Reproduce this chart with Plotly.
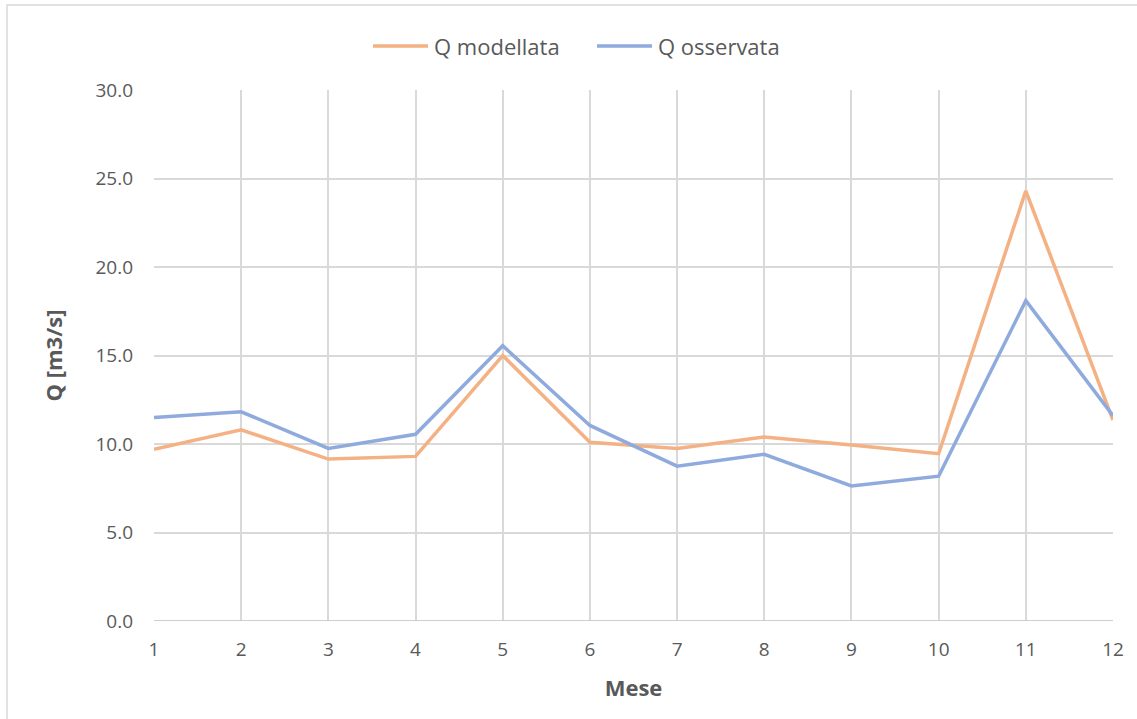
import plotly.graph_objects as go

# Monthly discharge, modelled vs observed
mesi = [1, 2, 3, 4, 5, 6, 7, 8, 9, 10, 11, 12]
q_modellata = [9.7, 10.8, 9.15, 9.3, 15.0, 10.1, 9.75, 10.4, 9.95, 9.45, 24.3, 11.35]
q_osservata = [11.5, 11.82, 9.75, 10.55, 15.55, 11.05, 8.75, 9.42, 7.63, 8.18, 18.1, 11.6]
y_ticks = [0, 5, 10, 15, 20, 25, 30]
series_names = ["Q modellata", "Q osservata"]
series_colors = ["#F4B183", "#8FAADC"]

font_family = "Open Sans, Liberation Sans, sans-serif"
text_col = "#595959"
grid_col = "#d9d9d9"

W, H = 1137, 719
ML, MR, MT, MB = 154, 24, 90, 98
PW, PH = W - ML - MR, H - MT - MB


def px_x(p):
    return (p - ML) / PW


def px_y(p):
    return (H - MB - p) / PH


fig = go.Figure()
for name, vals, col in zip(series_names, [q_modellata, q_osservata], series_colors):
    fig.add_trace(go.Scatter(x=mesi, y=vals, mode="lines", name=name,
                             line=dict(color=col, width=3.5), showlegend=False))

# Legend drawn as long line swatches with labels, centred above the plot
shapes = [
    dict(type="line", xref="paper", yref="y", x0=0, x1=1, y0=0, y1=0,
         line=dict(color="#bfbfbf", width=1.5)),
    dict(type="rect", xref="paper", yref="paper", x0=px_x(7), x1=1.2, y0=-0.5, y1=px_y(5),
         line=dict(color="#d9d9d9", width=1.5), fillcolor="rgba(0,0,0,0)", layer="below"),
]
annotations = []
legend_starts = [373, 597]
for name, col, x0 in zip(series_names, series_colors, legend_starts):
    shapes.append(dict(type="line", xref="paper", yref="paper",
                       x0=px_x(x0), x1=px_x(x0 + 55), y0=px_y(46), y1=px_y(46),
                       line=dict(color=col, width=3.5)))
    annotations.append(dict(text=name, xref="paper", yref="paper", x=px_x(x0 + 59),
                            y=px_y(46), xanchor="left", yanchor="middle", showarrow=False,
                            font=dict(size=22, color=text_col, family=font_family)))

fig.update_layout(
    width=W, height=H,
    margin=dict(l=ML, r=MR, t=MT, b=MB),
    paper_bgcolor="white", plot_bgcolor="white",
    font=dict(family=font_family, size=19, color=text_col),
    showlegend=False,
    xaxis=dict(range=[1, 12], tickvals=mesi, showgrid=True, gridcolor=grid_col, gridwidth=1.5,
               zeroline=False, showline=False, ticks="", ticklabelstandoff=15,
               tickfont=dict(size=19),
               title=dict(text="<b>Mese</b>", font=dict(size=22, color=text_col), standoff=19)),
    yaxis=dict(range=[0, 30], tickvals=y_ticks, tickformat=".1f", showgrid=True,
               gridcolor=grid_col, gridwidth=1.5, zeroline=False, showline=False, ticks="",
               ticklabelstandoff=20, tickfont=dict(size=19),
               title=dict(text="<b>Q [m3/s]</b>", font=dict(size=22, color=text_col), standoff=26)),
    shapes=shapes,
    annotations=annotations,
)

fig.write_html("out.html")
